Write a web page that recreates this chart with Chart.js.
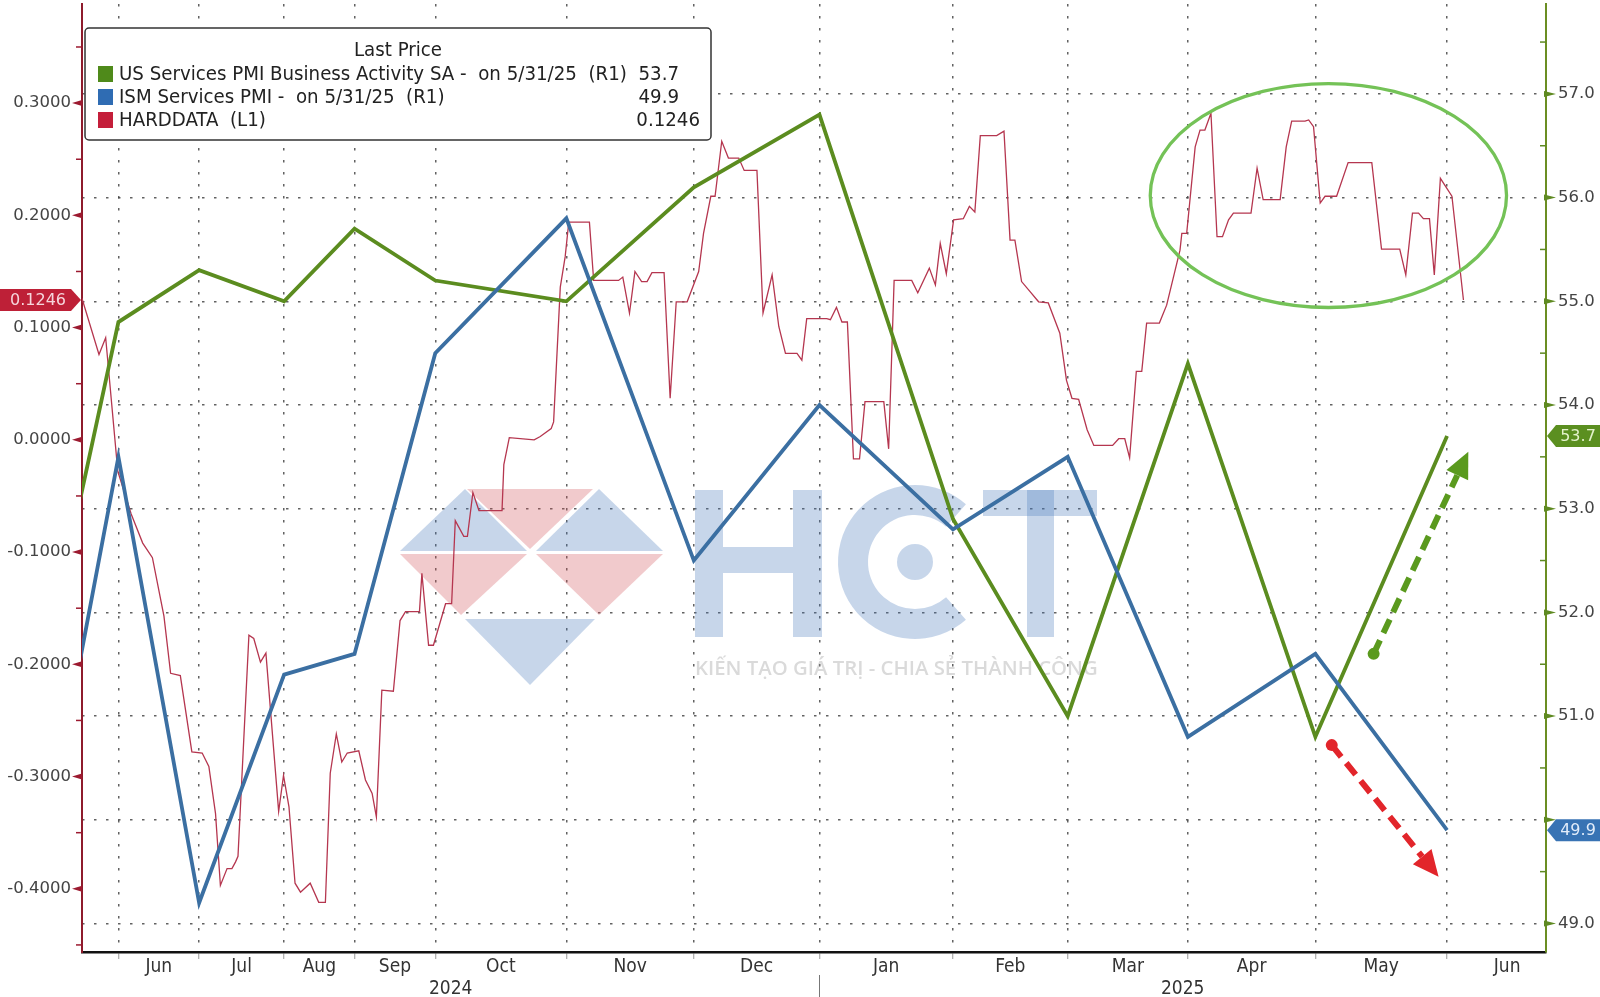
<!DOCTYPE html>
<html>
<head>
<meta charset="utf-8">
<script src="https://cdn.jsdelivr.net/npm/chart.js@4/dist/chart.umd.min.js"></script>
<style>
  html, body { margin: 0; padding: 0; background: #fff; }
  canvas { display: block; }
</style>
</head>
<body>
<canvas id="c" width="1600" height="997"></canvas>
<script>
// x axis is an observation index (Bloomberg packs early months tighter)
var monthNames = ["Jun", "Jul", "Aug", "Sep", "Oct", "Nov", "Dec", "Jan", "Feb", "Mar", "Apr", "May", "Jun"];
var monthStart = [6.0, 19.3, 33.3, 44.9, 58.2, 79.8, 100.8, 121.5, 143.5, 162.4, 182.2, 203.2, 224.9, 244.7];
var yearNames = ["2024", "2025"];
var yearStart = [0, 121.5, 241.2];

// monthly PMI prints, plotted at the start of the following month
var pmiX = [-6.9, 6.0, 19.3, 33.3, 44.9, 58.2, 79.8, 100.8, 121.5, 143.5, 162.4, 182.2, 203.2, 224.9];
var usServicesPmi = [51.3, 54.8, 55.3, 55.0, 55.7, 55.2, 55.0, 56.1, 56.8, 52.9, 51.0, 54.4, 50.8, 53.7];
var ismServicesPmi = [49.5, 53.5, 49.2, 51.4, 51.6, 54.5, 55.8, 52.5, 54.0, 52.8, 53.5, 50.8, 51.6, 49.9];

// HARDDATA (left axis)
var hardX = [0, 2.8, 3.9, 5.9, 8.1, 10.0, 11.6, 13.5, 14.6, 16.2,
  18.1, 19.8, 20.9, 22.0, 22.8, 23.9, 24.7, 25.3, 25.7, 27.5,
  28.3, 29.4, 30.3, 32.4, 33.2, 34.1, 35.1, 36.0, 37.6, 39.0,
  40.1, 40.9, 41.9, 42.8, 43.7, 45.6, 46.7, 47.8, 48.5, 49.4,
  51.3, 52.4, 53.3, 55.6, 56.0, 57.1, 57.9, 59.9, 60.9, 61.5,
  62.9, 63.5, 64.4, 65.4, 69.2, 69.5, 70.4, 74.5, 75.5, 77.3,
  77.7, 78.8, 79.6, 80.2, 83.6, 84.3, 88.4, 89.1, 90.2, 91.1,
  92.2, 93.1, 93.9, 95.9, 96.9, 97.9, 99.7, 101.6, 102.4, 103.6,
  104.3, 105.4, 106.5, 108.2, 109.1, 111.2, 112.2, 113.7, 114.8, 115.9,
  117.8, 118.6, 119.4, 122.7, 123.3, 124.3, 125.2, 126.1, 127.1, 128.1,
  129.0, 132.1, 132.9, 133.8, 136.7, 137.7, 139.6, 140.6, 141.4, 142.4,
  143.6, 145.2, 146.2, 147.1, 148.0, 150.7, 151.9, 152.9, 153.7, 154.8,
  156.2, 157.6, 159.2, 161.1, 162.2, 163.1, 164.2, 165.6, 166.7, 169.8,
  170.8, 171.8, 172.6, 173.7, 174.6, 175.4, 177.5, 178.7, 180.9, 181.2,
  182.0, 182.6, 183.4, 184.2, 185.0, 186.0, 187.0, 187.9, 188.9, 189.7,
  192.6, 193.6, 194.6, 197.4, 198.4, 199.3, 201.5, 202.1, 202.9, 204.0,
  204.8, 206.7, 208.6, 212.5, 214.1, 217.1, 218.1, 219.2, 220.2, 221.0,
  222.0, 222.8, 223.8, 225.7, 227.6];
var hardY = [0.126, 0.076, 0.091, -0.028, -0.066, -0.092, -0.105, -0.157, -0.208, -0.210,
  -0.278, -0.279, -0.291, -0.333, -0.397, -0.382, -0.382, -0.376, -0.371, -0.174,
  -0.177, -0.198, -0.190, -0.331, -0.299, -0.327, -0.395, -0.403, -0.395, -0.412,
  -0.412, -0.297, -0.262, -0.287, -0.279, -0.277, -0.303, -0.315, -0.336, -0.223,
  -0.224, -0.161, -0.153, -0.153, -0.119, -0.183, -0.183, -0.146, -0.146, -0.072,
  -0.086, -0.086, -0.047, -0.063, -0.063, -0.022, 0.002, 0.000, 0.003, 0.010,
  0.016, 0.136, 0.163, 0.194, 0.194, 0.142, 0.142, 0.145, 0.113, 0.150,
  0.141, 0.141, 0.149, 0.149, 0.037, 0.123, 0.123, 0.150, 0.184, 0.217,
  0.217, 0.266, 0.251, 0.251, 0.240, 0.240, 0.113, 0.147, 0.101, 0.077,
  0.077, 0.071, 0.108, 0.108, 0.107, 0.118, 0.105, 0.105, -0.017, -0.017,
  0.034, 0.034, -0.008, 0.142, 0.142, 0.131, 0.153, 0.138, 0.175, 0.148,
  0.196, 0.197, 0.208, 0.203, 0.271, 0.271, 0.275, 0.178, 0.178, 0.141,
  0.132, 0.123, 0.122, 0.095, 0.053, 0.037, 0.036, 0.009, -0.005, -0.005,
  0.001, 0.001, -0.016, 0.061, 0.061, 0.104, 0.104, 0.120, 0.169, 0.184,
  0.184, 0.217, 0.261, 0.276, 0.276, 0.291, 0.181, 0.181, 0.196, 0.202,
  0.202, 0.242, 0.214, 0.214, 0.261, 0.284, 0.284, 0.285, 0.279, 0.211,
  0.217, 0.217, 0.247, 0.247, 0.170, 0.170, 0.147, 0.202, 0.202, 0.197,
  0.197, 0.147, 0.233, 0.217, 0.1246];

// axis ranges and ticks
var xMin = 0, xMax = 241.2;
var leftMin = -0.4563, leftMax = 0.3883;
var rightMin = 48.725, rightMax = 57.867;
var leftTicks = [-0.4, -0.3, -0.2, -0.1, 0, 0.1, 0.2, 0.3];
var rightTicks = [49, 50, 51, 52, 53, 54, 55, 56, 57];

// legend
var seriesNames = ["US Services PMI Business Activity SA -  on 5/31/25  (R1)", "ISM Services PMI -  on 5/31/25  (R1)", "HARDDATA  (L1)"];
var seriesColors = ["#5b8c1f", "#3b6fa2", "#b5364f"];
var swatchColors = ["#4f8a1a", "#2f6cb3", "#c41e3a"];

// annotations (x: observation index, y: right axis)
var ringX = [176.0, 234.7], ringY = [54.94, 57.10];
var upArrowX = [212.8, 228.4], upArrowY = [51.6, 53.55];
var downArrowX = [205.9, 223.5], downArrowY = [50.72, 49.45];

var NARROW = '"Liberation Sans Narrow", "DejaVu Sans Condensed", "Arial Narrow", sans-serif';
var TICKFONT = '"DejaVu Sans", Verdana, sans-serif';

function zip(xs, ys) {
  var out = [];
  for (var i = 0; i < Math.min(xs.length, ys.length); i++) out.push({ x: xs[i], y: ys[i] });
  return out;
}

var monthMid = [];
for (var i = 0; i < monthNames.length; i++) monthMid.push((monthStart[i] + monthStart[i + 1]) / 2);

function isBoundary(v) {
  for (var i = 0; i < monthStart.length; i++) if (Math.abs(monthStart[i] - v) < 1e-6) return true;
  return false;
}

function tri(ctx, p, color) {
  ctx.fillStyle = color;
  ctx.beginPath();
  ctx.moveTo(p[0][0], p[0][1]);
  ctx.lineTo(p[1][0], p[1][1]);
  ctx.lineTo(p[2][0], p[2][1]);
  ctx.closePath();
  ctx.fill();
}

var watermark = {
  id: 'watermark',
  beforeDatasetsDraw: function (chart) {
    var ctx = chart.ctx;
    var blue = 'rgba(70, 120, 185, 0.30)';
    var pink = 'rgba(210, 80, 85, 0.30)';
    ctx.save();
    tri(ctx, [[465, 489], [400, 551], [527, 551]], blue);
    tri(ctx, [[467, 489], [593, 489], [530, 549]], pink);
    tri(ctx, [[599, 489], [536, 551], [663, 551]], blue);
    tri(ctx, [[400, 554], [527, 554], [461, 615]], pink);
    tri(ctx, [[536, 554], [663, 554], [599, 615]], pink);
    tri(ctx, [[465, 619], [595, 619], [530, 685]], blue);
    ctx.fillStyle = blue;
    // H
    ctx.fillRect(695, 490, 28, 147);
    ctx.fillRect(793, 490, 29, 147);
    ctx.fillRect(723, 547, 70, 26);
    // C
    ctx.beginPath();
    ctx.arc(915, 562, 77, 0.27 * Math.PI, 1.73 * Math.PI);
    ctx.arc(915, 562, 47, 1.73 * Math.PI, 0.27 * Math.PI, true);
    ctx.closePath();
    ctx.fill();
    ctx.beginPath();
    ctx.arc(915, 562, 18, 0, 2 * Math.PI);
    ctx.fill();
    // T
    ctx.fillRect(983, 490, 114, 26);
    ctx.fillRect(1027, 490, 27, 147);
    // tagline
    var tag = 'KIẾN TẠO GIÁ TRỊ - CHIA SẺ THÀNH CÔNG';
    ctx.font = '600 20px "Open Sans", sans-serif';
    var w = ctx.measureText(tag).width;
    ctx.font = '600 ' + (20 * 403 / w).toFixed(2) + 'px "Open Sans", sans-serif';
    ctx.fillStyle = 'rgba(150, 150, 150, 0.35)';
    ctx.textAlign = 'left';
    ctx.textBaseline = 'middle';
    ctx.fillText(tag, 695, 669);
    ctx.restore();
  }
};

function dashedArrow(ctx, x1, y1, x2, y2, color) {
  var a = Math.atan2(y2 - y1, x2 - x1);
  var hl = 26, hw = 12;
  var bx = x2 - hl * Math.cos(a), by = y2 - hl * Math.sin(a);
  ctx.strokeStyle = color;
  ctx.lineWidth = 6;
  ctx.setLineDash([15, 8]);
  ctx.beginPath();
  ctx.moveTo(x1, y1);
  ctx.lineTo(bx, by);
  ctx.stroke();
  ctx.setLineDash([]);
  ctx.fillStyle = color;
  ctx.beginPath();
  ctx.arc(x1, y1, 6, 0, 2 * Math.PI);
  ctx.fill();
  ctx.beginPath();
  ctx.moveTo(x2, y2);
  ctx.lineTo(bx + hw * Math.sin(a), by - hw * Math.cos(a));
  ctx.lineTo(bx - hw * Math.sin(a), by + hw * Math.cos(a));
  ctx.closePath();
  ctx.fill();
}

var marks = {
  id: 'marks',
  afterDatasetsDraw: function (chart) {
    var ctx = chart.ctx, sx = chart.scales.x, sy = chart.scales.yR;
    ctx.save();
    // ellipse
    var x1 = sx.getPixelForValue(ringX[0]), x2 = sx.getPixelForValue(ringX[1]);
    var y1 = sy.getPixelForValue(ringY[1]), y2 = sy.getPixelForValue(ringY[0]);
    ctx.strokeStyle = '#74c257';
    ctx.lineWidth = 3.3;
    ctx.beginPath();
    ctx.ellipse((x1 + x2) / 2, (y1 + y2) / 2, (x2 - x1) / 2, (y2 - y1) / 2, 0, 0, 2 * Math.PI);
    ctx.stroke();
    dashedArrow(ctx, sx.getPixelForValue(upArrowX[0]), sy.getPixelForValue(upArrowY[0]),
      sx.getPixelForValue(upArrowX[1]), sy.getPixelForValue(upArrowY[1]), '#5a9a1e');
    dashedArrow(ctx, sx.getPixelForValue(downArrowX[0]), sy.getPixelForValue(downArrowY[0]),
      sx.getPixelForValue(downArrowX[1]), sy.getPixelForValue(downArrowY[1]), '#e2252b');
    ctx.restore();
  },
  afterDraw: function (chart) {
    var ctx = chart.ctx, a = chart.chartArea;
    var sl = chart.scales.yL, sr = chart.scales.yR, sx = chart.scales.x;
    ctx.save();
    // left axis pointers
    ctx.fillStyle = '#9c1a30';
    ctx.strokeStyle = '#9c1a30';
    ctx.lineWidth = 1.5;
    leftTicks.forEach(function (v) {
      var y = sl.getPixelForValue(v);
      ctx.beginPath();
      ctx.moveTo(a.left - 10, y);
      ctx.lineTo(a.left, y - 3);
      ctx.lineTo(a.left, y + 3);
      ctx.closePath();
      ctx.fill();
      var ym = sl.getPixelForValue(v + 0.05);
      if (ym > a.top) {
        ctx.beginPath();
        ctx.moveTo(a.left - 6, ym);
        ctx.lineTo(a.left, ym);
        ctx.stroke();
      }
    });
    var yb = sl.getPixelForValue(-0.45);
    ctx.beginPath(); ctx.moveTo(a.left - 6, yb); ctx.lineTo(a.left, yb); ctx.stroke();
    // right axis pointers
    ctx.fillStyle = '#5f8a22';
    ctx.strokeStyle = '#5f8a22';
    rightTicks.forEach(function (v) {
      var y = sr.getPixelForValue(v);
      ctx.beginPath();
      ctx.moveTo(a.right + 10, y);
      ctx.lineTo(a.right - 2, y - 3);
      ctx.lineTo(a.right - 2, y + 3);
      ctx.closePath();
      ctx.fill();
      var ym = sr.getPixelForValue(v + 0.5);
      if (ym > a.top) {
        ctx.beginPath();
        ctx.moveTo(a.right - 6, ym);
        ctx.lineTo(a.right, ym);
        ctx.stroke();
      }
    });
    // last value tags
    ctx.font = '16px ' + TICKFONT;
    ctx.textBaseline = 'middle';
    ctx.textAlign = 'center';
    var yt = sl.getPixelForValue(hardY[hardY.length - 1]);
    ctx.fillStyle = '#be2037';
    ctx.beginPath();
    ctx.moveTo(0, yt - 11); ctx.lineTo(71, yt - 11); ctx.lineTo(81, yt);
    ctx.lineTo(71, yt + 11); ctx.lineTo(0, yt + 11); ctx.closePath(); ctx.fill();
    ctx.fillStyle = '#f6d6dc';
    ctx.fillText(hardY[hardY.length - 1].toFixed(4), 38, yt + 1);
    var rtags = [[usServicesPmi[usServicesPmi.length - 1], '#5b8f20', '#e4f3cc'],
                 [ismServicesPmi[ismServicesPmi.length - 1], '#3873b4', '#e2ecfa']];
    rtags.forEach(function (t) {
      var y = sr.getPixelForValue(t[0]);
      ctx.fillStyle = t[1];
      ctx.beginPath();
      ctx.moveTo(a.right + 1, y); ctx.lineTo(a.right + 10, y - 11); ctx.lineTo(1600, y - 11);
      ctx.lineTo(1600, y + 11); ctx.lineTo(a.right + 10, y + 11); ctx.closePath(); ctx.fill();
      ctx.fillStyle = t[2];
      ctx.fillText(t[0].toFixed(1), a.right + 32, y + 1);
    });
    // year labels under the month labels
    ctx.fillStyle = '#333';
    ctx.font = '19px ' + NARROW;
    for (var i = 0; i < yearNames.length; i++) {
      var xm = sx.getPixelForValue((yearStart[i] + yearStart[i + 1]) / 2);
      ctx.fillText(yearNames[i], xm, 989);
    }
    var xs = Math.round(sx.getPixelForValue(yearStart[1])) + 0.5;
    ctx.strokeStyle = '#777';
    ctx.lineWidth = 1;
    ctx.beginPath(); ctx.moveTo(xs, 975); ctx.lineTo(xs, 997); ctx.stroke();
    // legend box
    var bx = 85, by = 28, bw = 626, bh = 112;
    ctx.fillStyle = '#fff';
    ctx.strokeStyle = '#333';
    ctx.lineWidth = 1.5;
    ctx.beginPath();
    ctx.roundRect(bx, by, bw, bh, 4);
    ctx.fill();
    ctx.stroke();
    // size the legend font so the first row spans like the original
    ctx.font = '19px ' + NARROW;
    var fs = 19 * 508 / ctx.measureText(seriesNames[0]).width;
    ctx.font = fs.toFixed(2) + 'px ' + NARROW;
    ctx.fillStyle = '#222';
    ctx.textAlign = 'center';
    ctx.fillText('Last Price', 398, 51);
    var vals = [usServicesPmi[usServicesPmi.length - 1].toFixed(1),
                ismServicesPmi[ismServicesPmi.length - 1].toFixed(1),
                hardY[hardY.length - 1].toFixed(4)];
    var valRight = [679, 679, 700];
    for (var r = 0; r < 3; r++) {
      var yy = 74 + r * 23;
      ctx.fillStyle = swatchColors[r];
      ctx.fillRect(98, yy - 8, 15, 16);
      ctx.fillStyle = '#222';
      ctx.textAlign = 'left';
      ctx.fillText(seriesNames[r], 119, yy + 1);
      ctx.textAlign = 'right';
      ctx.fillText(vals[r], valRight[r], yy + 1);
    }
    ctx.restore();
  }
};

var xTicks = monthStart.filter(function (v) { return v <= xMax; }).concat(monthMid).sort(function (p, q) { return p - q; });

new Chart(document.getElementById('c'), {
  type: 'line',
  data: {
    datasets: [
      { label: 'ISM Services PMI', data: zip(pmiX, ismServicesPmi), xAxisID: 'x', yAxisID: 'yR',
        borderColor: seriesColors[1], borderWidth: 3.8, pointRadius: 0, tension: 0, order: 0 },
      { label: 'US Services PMI Business Activity SA', data: zip(pmiX, usServicesPmi), xAxisID: 'x', yAxisID: 'yR',
        borderColor: seriesColors[0], borderWidth: 3.8, pointRadius: 0, tension: 0, order: 1 },
      { label: 'HARDDATA', data: zip(hardX, hardY), xAxisID: 'x', yAxisID: 'yL',
        borderColor: seriesColors[2], borderWidth: 1.3, pointRadius: 0, tension: 0, order: 2 }
    ]
  },
  options: {
    responsive: false,
    animation: false,
    devicePixelRatio: 1,
    events: [],
    layout: { padding: { top: 4, left: 0, right: 0, bottom: 0 } },
    plugins: { legend: { display: false }, tooltip: { enabled: false } },
    scales: {
      x: {
        type: 'linear', position: 'bottom', min: xMin, max: xMax,
        afterBuildTicks: function (s) { s.ticks = xTicks.map(function (v) { return { value: v }; }); },
        afterFit: function (s) { s.height = 45; s.paddingLeft = 0; s.paddingRight = 0; },
        ticks: {
          autoSkip: false, maxRotation: 0, minRotation: 0, padding: -3,
          color: '#333', font: { family: NARROW, size: 19 },
          callback: function (v) {
            for (var i = 0; i < monthMid.length; i++) if (Math.abs(monthMid[i] - v) < 1e-6) return monthNames[i];
            return '';
          }
        },
        grid: {
          lineWidth: 1.5, tickLength: 7, tickWidth: 1,
          color: function (c) { return c.tick && isBoundary(c.tick.value) ? 'rgba(70,70,70,0.85)' : 'rgba(0,0,0,0)'; },
          tickColor: function (c) { return c.tick && isBoundary(c.tick.value) ? '#999' : 'rgba(0,0,0,0)'; }
        },
        border: { display: true, color: '#111', width: 2.5, dash: [2.5, 9.5] }
      },
      yL: {
        type: 'linear', position: 'left', min: leftMin, max: leftMax,
        afterBuildTicks: function (s) { s.ticks = leftTicks.map(function (v) { return { value: v }; }); },
        afterFit: function (s) { s.width = 82; s.paddingTop = 0; s.paddingBottom = 0; },
        ticks: {
          padding: 11, color: '#444', font: { family: TICKFONT, size: 16.5 },
          callback: function (v) { return (Math.round(v * 10) / 10).toFixed(4); }
        },
        grid: { drawOnChartArea: false, drawTicks: false },
        border: { display: true, color: '#8e1b2c', width: 2 }
      },
      yR: {
        type: 'linear', position: 'right', min: rightMin, max: rightMax,
        afterBuildTicks: function (s) { s.ticks = rightTicks.map(function (v) { return { value: v }; }); },
        afterFit: function (s) { s.width = 54; s.paddingTop = 0; s.paddingBottom = 0; },
        ticks: {
          padding: 12, color: '#444', font: { family: TICKFONT, size: 16.5 },
          callback: function (v) { return v === 50 ? '' : v.toFixed(1); }
        },
        grid: { drawOnChartArea: true, drawTicks: false, color: 'rgba(70,70,70,0.85)', lineWidth: 1.5 },
        border: { display: true, color: '#6b8e23', width: 2, dash: [2.5, 9.5] }
      }
    }
  },
  plugins: [watermark, marks]
});
</script>
</body>
</html>
